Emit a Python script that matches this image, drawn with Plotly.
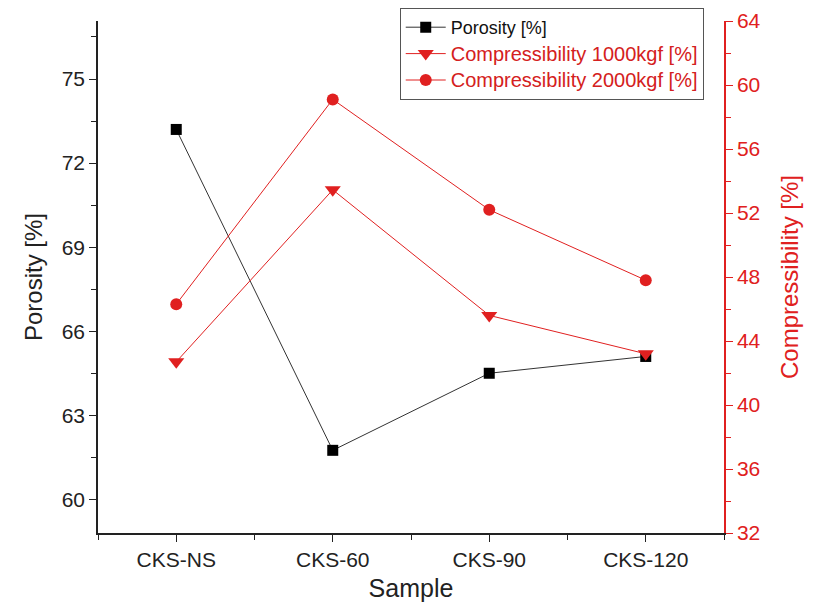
import plotly.graph_objects as go

samples = ["CKS-NS", "CKS-60", "CKS-90", "CKS-120"]
porosity = [73.2, 61.75, 64.5, 65.1]
comp_1000 = [42.7, 53.45, 45.6, 43.2]
comp_2000 = [46.3, 59.1, 52.2, 47.8]

RED = "#e02020"
xpos = list(range(len(samples)))

fig = go.Figure()
fig.add_trace(go.Scatter(
    x=xpos, y=porosity, mode="lines+markers", name="Porosity [%]",
    line=dict(color="#333333", width=1),
    marker=dict(symbol="square", size=11, color="black"),
    yaxis="y"))
fig.add_trace(go.Scatter(
    x=xpos, y=comp_1000, mode="lines+markers",
    name="<span style='color:#d42020;font-size:20px'>Compressibility 1000kgf [%]</span>",
    line=dict(color=RED, width=1),
    marker=dict(symbol="triangle-down", size=14, color=RED),
    yaxis="y2"))
fig.add_trace(go.Scatter(
    x=xpos, y=comp_2000, mode="lines+markers",
    name="<span style='color:#d42020;font-size:20px'>Compressibility 2000kgf [%]</span>",
    line=dict(color=RED, width=1),
    marker=dict(symbol="circle", size=12, color=RED),
    yaxis="y2"))

font_family = "Liberation Sans, Arial, sans-serif"
fig.update_layout(
    width=817, height=602,
    margin=dict(l=90, r=101, t=13, b=77, autoexpand=False),
    paper_bgcolor="white", plot_bgcolor="white",
    font=dict(family=font_family, size=21, color="#222222"),
    showlegend=True,
    legend=dict(x=0.482, xref="paper", y=1.0, yref="container",
                xanchor="left", yanchor="top",
                bordercolor="#555555", borderwidth=1, bgcolor="white",
                font=dict(size=18, color="#111111"), tracegroupgap=0,
                itemwidth=40),
    xaxis=dict(
        range=[-0.5, 3.5], tickmode="array", tickvals=xpos, ticktext=samples,
        automargin=False,
        showgrid=False, zeroline=False, showline=True, linecolor="#222222",
        linewidth=1.5, ticks="outside", ticklen=7, tickcolor="#222222",
        minor=dict(tickmode="array", tickvals=[-0.5, 0.5, 1.5, 2.5, 3.5],
                   ticks="outside", ticklen=5, tickcolor="#222222"),
        title=dict(text="Sample", font=dict(size=25), standoff=10),
    ),
    yaxis=dict(
        range=[58.8, 77.07], tickmode="array", tickvals=[60, 63, 66, 69, 72, 75],
        automargin=False,
        showgrid=False, zeroline=False, showline=True, linecolor="#222222",
        linewidth=1.5, ticks="outside", ticklen=7, tickcolor="#222222",
        minor=dict(tickmode="array", tickvals=[61.5, 64.5, 67.5, 70.5, 73.5, 76.5],
                   ticks="outside", ticklen=5, tickcolor="#222222"),
        title=dict(text="Porosity [%]", font=dict(size=24), standoff=12),
    ),
    yaxis2=dict(
        range=[32, 64], overlaying="y", side="right",
        automargin=False,
        tickmode="array", tickvals=[32, 36, 40, 44, 48, 52, 56, 60, 64],
        showgrid=False, zeroline=False, showline=True, linecolor=RED,
        linewidth=1.5, ticks="outside", ticklen=7, tickcolor=RED,
        tickfont=dict(color=RED, size=21),
        minor=dict(tickmode="array", tickvals=[34, 38, 42, 46, 50, 54, 58, 62],
                   ticks="outside", ticklen=5, tickcolor=RED),
        title=dict(text="Compressibility [%]", font=dict(size=24, color=RED), standoff=22),
    ),
)

fig.write_html("out.html")
